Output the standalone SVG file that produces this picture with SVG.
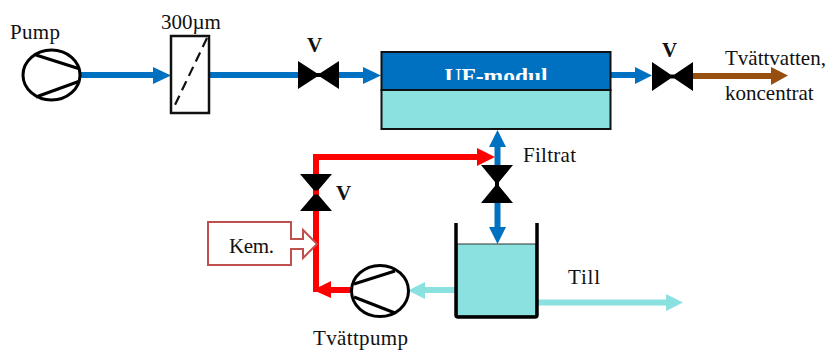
<svg xmlns="http://www.w3.org/2000/svg" width="827" height="350" viewBox="0 0 827 350">
<style>
.t{font-family:"Liberation Serif","Times New Roman",serif;font-size:21px;fill:#111}
.v{font-family:"Liberation Serif","Times New Roman",serif;font-size:21px;font-weight:bold;fill:#111}
.pump{fill:#fff;stroke:#000;stroke-width:3}
.valve{fill:#000}
.box{stroke:#111;stroke-width:2}
.b{fill:#0070c0}.bl{stroke:#0070c0;stroke-width:6;fill:none}
.r{fill:#f00}.rl{stroke:#f00;stroke-width:6;fill:none}
.c{fill:#8be0e0}.cl{stroke:#8be0e0;stroke-width:6;fill:none}
</style>
<defs><clipPath id="ufclip"><rect x="381" y="52" width="230" height="28"/></clipPath></defs>
<g id="connectors">
<path class="bl" d="M80 75H155"/><path class="b" d="M153 67L171 75.500L153 84Z"/>
<path class="bl" d="M208 75H300"/>
<path class="bl" d="M338 75H365"/><path class="b" d="M363 67L381 75.500L363 84Z"/>
<path class="bl" d="M611 75H637"/><path class="b" d="M635 67L652 75.500L635 84Z"/>
<path d="M692 76H773" stroke="#974f0f" stroke-width="6" fill="none"/><path fill="#974f0f" d="M771 67L788 75.500L771 85Z"/>
<path class="bl" d="M497.500 145V167"/><path class="b" d="M497.500 130L506 147H489Z"/>
<path class="bl" d="M497.500 202V229"/><path class="b" d="M489 227H506L497.500 244Z"/>
<path class="rl" d="M316 292V157H479"/><path class="r" d="M477 148L495 157L477 166Z"/>
<path class="rl" d="M352 290H329"/><path class="r" d="M331 281V298L313 290Z"/>
<path class="cl" d="M456 290H423"/><path class="c" d="M425 282V299L408 290.500Z"/>
<path class="cl" d="M538 302.500H668"/><path class="c" d="M666 294L683 302.500L666 311Z"/>
</g>
<g id="pump1"><ellipse class="pump" cx="51.500" cy="75" rx="28.500" ry="25"/><path fill="none" stroke="#000" stroke-width="3" d="M36 55L80 69M36 97L80 81"/><text class="t" x="10" y="39" textLength="50">Pump</text></g>
<g id="filter"><rect x="171" y="36" width="38" height="77" fill="#fff" stroke="#111" stroke-width="2.500"/><path d="M207 38L174 107" stroke="#111" stroke-width="2.200" stroke-dasharray="10 6" fill="none"/><text class="t" x="161" y="29">300µm</text></g>
<g id="valve1"><path class="valve" d="M298 61L316.500 73H320.500L339 61V89L320.500 77H316.500L298 89Z"/><text class="v" x="307" y="52">V</text></g>
<g id="uf"><rect class="box" x="381.500" y="52" width="229" height="38" fill="#0070c0"/><rect class="box" x="381.500" y="90" width="229" height="39" fill="#8be0e0"/><text clip-path="url(#ufclip)" x="496" y="84" text-anchor="middle" font-family="Liberation Serif, serif" font-weight="bold" font-size="23.500" fill="#fff">UF-modul</text></g>
<g id="valve2"><path class="valve" d="M652 62L670.500 74.500H674.500L693 62V91L674.500 78.500H670.500L652 91Z"/><text class="v" x="662" y="57">V</text></g>
<g id="out"><text class="t" x="725" y="65">Tvättvatten,</text><text class="t" x="725" y="100">koncentrat</text></g>
<g id="filtrat"><text class="t" x="523" y="162" textLength="53">Filtrat</text></g>
<g id="valve3"><path class="valve" d="M481 165H513L499 182V186L513 203H481L495 186V182Z"/></g>
<g id="valve4"><path class="valve" d="M300 174H332L318 190.500V194.500L332 211H300L314 194.500V190.500Z"/><path d="M316 190.500V194.500" stroke="#f00" stroke-width="4"/><text class="v" x="336" y="200">V</text></g>
<g id="kem"><path d="M208 222H291V239H303V230L317 244L303 258V249H291V265H208Z" fill="#fff" stroke="#c0504d" stroke-width="2"/><text class="t" x="229" y="253" textLength="45">Kem.</text></g>
<g id="pump2"><ellipse class="pump" cx="380" cy="291" rx="28.500" ry="25.500"/><path fill="none" stroke="#000" stroke-width="3" d="M354 284L395 271M354 297L395 313"/><text class="t" x="313" y="345" textLength="95">Tvättpump</text></g>
<g id="tank"><rect x="457" y="244" width="79" height="72" fill="#8be0e0" stroke="#333" stroke-width="1"/><path d="M456 223V315Q456 317 458 317H535Q537 317 537 315V223" fill="none" stroke="#000" stroke-width="3.500"/></g>
<g id="till"><text class="t" x="568" y="284" textLength="32">Till</text></g>
</svg>
